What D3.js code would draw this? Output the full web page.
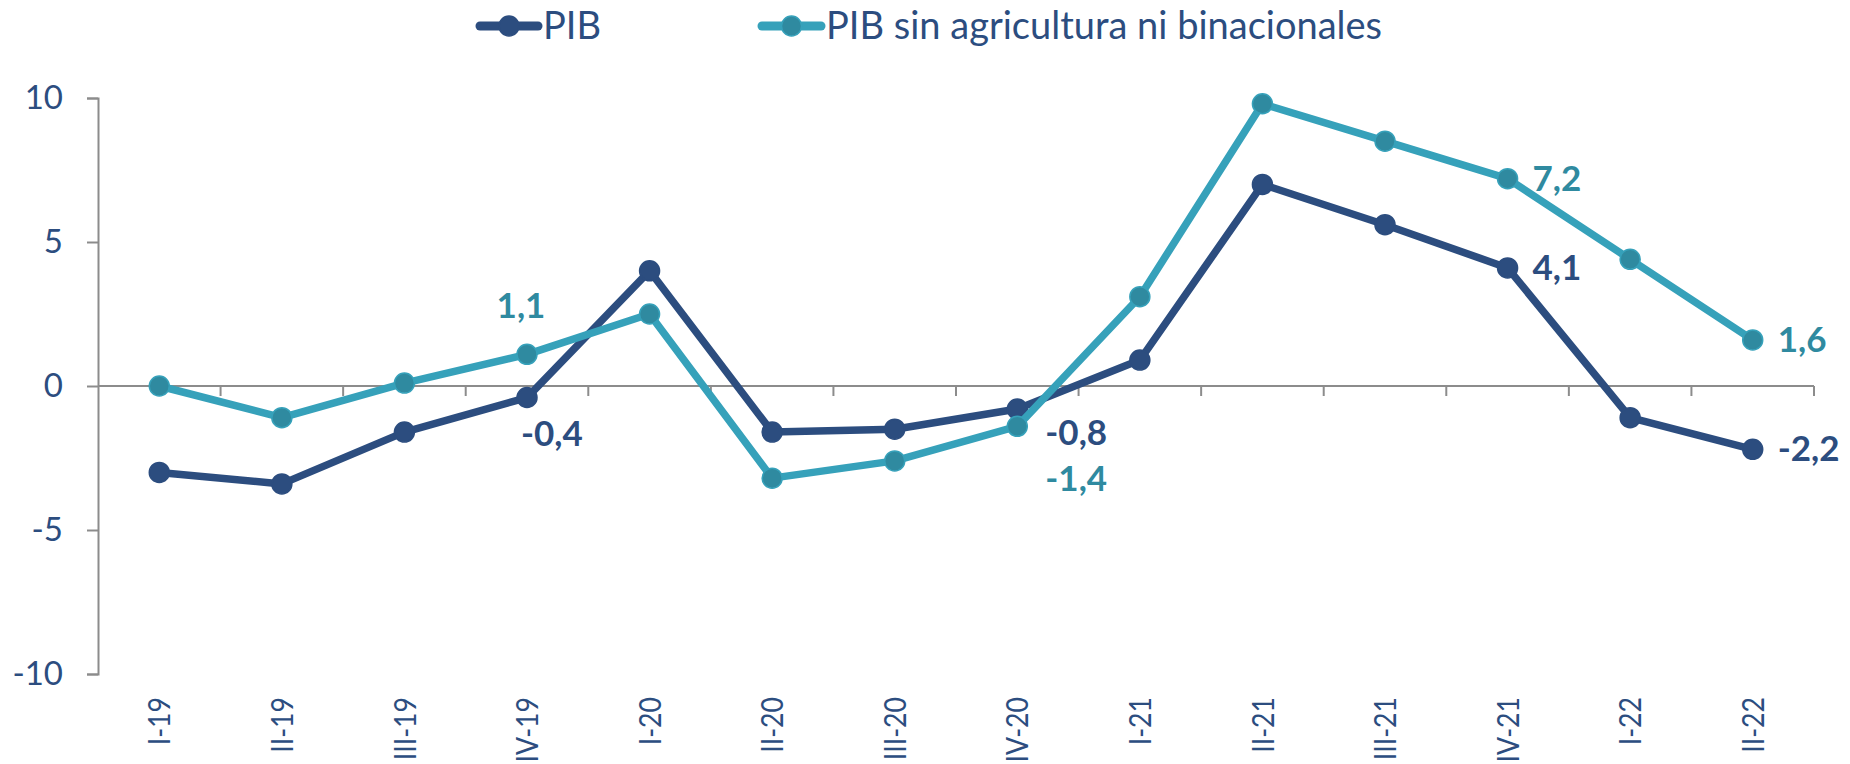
<!DOCTYPE html>
<html>
<head>
<meta charset="utf-8">
<script src="https://cdn.jsdelivr.net/npm/d3@7"></script>
<style>
  html, body { margin: 0; padding: 0; background: #ffffff; }
  svg { display: block; }
  text { font-family: Lato, "Open Sans", sans-serif; }
</style>
</head>
<body>
<svg id="chart" width="1850" height="764"></svg>
<script>
const categories = ["I-19","II-19","III-19","IV-19","I-20","II-20","III-20","IV-20","I-21","II-21","III-21","IV-21","I-22","II-22"];
const pib = [-3.0,-3.4,-1.6,-0.4,4.0,-1.6,-1.5,-0.8,0.9,7.0,5.6,4.1,-1.1,-2.2];
const pibSinAgro = [0.0,-1.1,0.1,1.1,2.5,-3.2,-2.6,-1.4,3.1,9.8,8.5,7.2,4.4,1.6];
const yTicks = [-10,-5,0,5,10];
const seriesNames = ["PIB","PIB sin agricultura ni binacionales"];
// labelled points: series index, category index, placement
const labelled = [
  {s:0, i:3, pos:"below"},
  {s:0, i:7, pos:"right-low"},
  {s:0, i:11, pos:"right"},
  {s:0, i:13, pos:"right"},
  {s:1, i:3, pos:"above"},
  {s:1, i:7, pos:"below-right"},
  {s:1, i:11, pos:"right"},
  {s:1, i:13, pos:"right"}
];

(function () {
const DARK = "#2C4D7F", TEAL = "#36A1BA", TEAL_M = "#2F8AA0", TEAL_T = "#2F8AA0", AXIS = "#8C8C8C";
const seriesData = [pib, pibSinAgro];
const lineColors = [DARK, TEAL];
const markerColors = [DARK, TEAL_M];
const labelColors = [DARK, TEAL_T];

const svg = d3.select("#chart");
const mLeft = 98, mRight = 1814, mTop = 98, mBottom = 674;

const x = d3.scaleBand().domain(categories).range([mLeft, mRight]).padding(0);
const y = d3.scaleLinear().domain([-10, 10]).range([mBottom, mTop]);
const cx = c => x(c) + x.bandwidth() / 2;

// Y axis
const yAxis = svg.append("g")
  .attr("transform", `translate(${mLeft},0)`)
  .call(d3.axisLeft(y).tickValues(yTicks).tickSize(11).tickPadding(24).tickFormat(d => String(d)));
yAxis.select(".domain").attr("stroke", AXIS).attr("stroke-width", 2);
yAxis.selectAll(".tick line").attr("stroke", AXIS).attr("stroke-width", 2);
yAxis.selectAll(".tick text")
  .attr("fill", DARK)
  .style("font-size", "33px")
  .style("font-family", "Lato, sans-serif");

// X axis at zero
const xg = svg.append("g");
xg.append("line")
  .attr("x1", mLeft).attr("x2", mRight)
  .attr("y1", y(0)).attr("y2", y(0))
  .attr("stroke", AXIS).attr("stroke-width", 2);
xg.selectAll("line.xt").data(categories).join("line")
  .attr("class", "xt")
  .attr("x1", c => x(c) + x.bandwidth()).attr("x2", c => x(c) + x.bandwidth())
  .attr("y1", y(0)).attr("y2", y(0) + 10)
  .attr("stroke", AXIS).attr("stroke-width", 2);

// X labels (rotated, slightly condensed along text direction)
svg.append("g").selectAll("text").data(categories).join("text")
  .attr("transform", c => `translate(${cx(c)},697) rotate(-90) scale(0.86,1)`)
  .attr("text-anchor", "end")
  .attr("dy", "0.36em")
  .attr("fill", DARK)
  .style("font-size", "31px")
  .text(c => c);

// Lines
const lineGen = d3.line().x((d, i) => cx(categories[i])).y(d => y(d));
seriesData.forEach((vals, s) => {
  svg.append("path")
    .datum(vals)
    .attr("d", lineGen)
    .attr("fill", "none")
    .attr("stroke", lineColors[s])
    .attr("stroke-width", 7.5)
    .attr("stroke-linejoin", "round");
  svg.append("g").selectAll("circle").data(vals).join("circle")
    .attr("cx", (d, i) => cx(categories[i]))
    .attr("cy", d => y(d))
    .attr("r", 10)
    .attr("fill", markerColors[s])
    .attr("stroke", lineColors[s])
    .attr("stroke-width", 1.5);
});

// Data labels
const fmt = v => String(v.toFixed(1)).replace(".", ",");
labelled.forEach(l => {
  const v = seriesData[l.s][l.i];
  const px = cx(categories[l.i]), py = y(v);
  let tx = px, ty = py, anchor = "start";
  if (l.pos === "right") { tx = px + 25; ty = py + 12; }
  else if (l.pos === "right-low") { tx = px + 28; ty = py + 36; }
  else if (l.pos === "below") { tx = px - 6; ty = py + 48; }
  else if (l.pos === "below-right") { tx = px + 28; ty = py + 65; }
  else if (l.pos === "above") { tx = px - 6; ty = py - 36; anchor = "middle"; }
  svg.append("text")
    .attr("x", tx).attr("y", ty)
    .attr("text-anchor", anchor)
    .attr("fill", labelColors[l.s])
    .style("font-size", "35px")
    .style("font-weight", "bold")
    .text(fmt(v));
});

// Legend
const legendItems = [
  {x1: 480, x2: 538, tx: 543},
  {x1: 762, x2: 821, tx: 826}
];
legendItems.forEach((it, s) => {
  const g = svg.append("g");
  g.append("line")
    .attr("x1", it.x1).attr("x2", it.x2).attr("y1", 26).attr("y2", 26)
    .attr("stroke", lineColors[s]).attr("stroke-width", 9).attr("stroke-linecap", "round");
  g.append("circle")
    .attr("cx", (it.x1 + it.x2) / 2).attr("cy", 26).attr("r", 10)
    .attr("fill", markerColors[s]).attr("stroke", lineColors[s]).attr("stroke-width", 1.5);
  g.append("text")
    .attr("x", it.tx).attr("y", 39)
    .attr("fill", DARK)
    .style("font-size", "38px")
    .text(seriesNames[s]);
});
})();
</script>
</body>
</html>
